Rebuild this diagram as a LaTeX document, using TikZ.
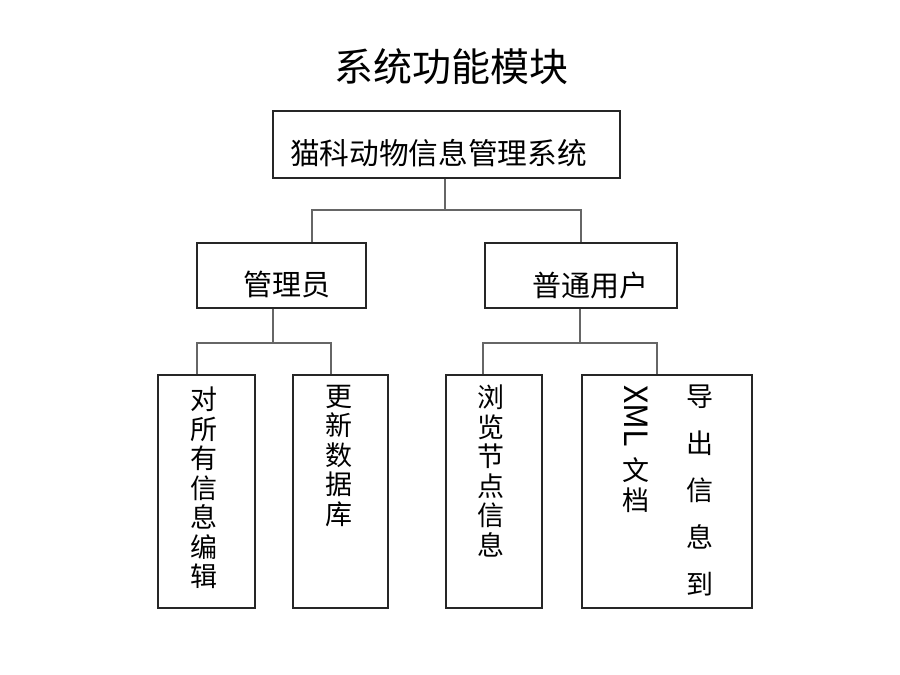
\documentclass[tikz,border=0pt]{standalone}
\usepackage{fontspec}
\newfontfamily\cjk{Noto Sans CJK SC}
\tikzset{
  box/.style={draw=black!85, line width=1.4pt, inner sep=0pt},
  wire/.style={draw=black!60, line width=2pt},
  txt/.style={font=\cjk\fontsize{29}{29}\selectfont, inner sep=0pt},
  vtxt/.style={font=\cjk\fontsize{27}{29.5}\selectfont, inner sep=0pt, align=center, anchor=north}
}
\begin{document}
\begin{tikzpicture}[x=1pt,y=-1pt]
  \useasboundingbox (0,0) rectangle (900,675);
  \node[font=\cjk\fontsize{39}{39}\selectfont, inner sep=0pt] (title) at (451,67) {系统功能模块};

  \node[box, minimum width=347pt, minimum height=67pt] (sys) at (446.5,144.5) {};
  \node[box, minimum width=169pt, minimum height=65pt] (adm) at (281.5,275.5) {};
  \node[box, minimum width=192pt, minimum height=65pt] (usr) at (581,275.5) {};
  \node[box, minimum width=97pt, minimum height=233pt] (edit) at (206.5,491.5) {};
  \node[box, minimum width=95pt, minimum height=233pt] (upd) at (340.5,491.5) {};
  \node[box, minimum width=96pt, minimum height=233pt] (view) at (494,491.5) {};
  \node[box, minimum width=170pt, minimum height=233pt] (xml) at (667,491.5) {};

  \node[txt, font=\cjk\fontsize{29.7}{29.7}\selectfont] (sysT) at (438.5,153) {猫科动物信息管理系统};
  \node[txt] (admT) at (286.5,284) {管理员};
  \node[txt] (usrT) at (590,285) {普通用户};
  \node[vtxt] (editT) at (204,387) {对\\所\\有\\信\\息\\编\\辑};
  \node[vtxt] (updT) at (339,385) {更\\新\\数\\据\\库};
  \node[vtxt] (viewT) at (491,385) {浏\\览\\节\\点\\信\\息};
  \node[vtxt, font=\cjk\fontsize{27}{47}\selectfont] (xmlT) at (700,385) {导\\出\\信\\息\\到};
  \node[vtxt] (xmlL) at (636,385) {\rotatebox{-90}{\fontsize{32}{32}\selectfont XML}\\[10pt]文\\档};

  \coordinate (j1) at (445,210);
  \coordinate (j2) at (273,343);
  \coordinate (j3) at (580,343);
  \draw[wire] (sys.south -| j1) -- (j1);
  \draw[wire] ([xshift=30.5pt]adm.north) |- (j1) -| (usr.north);
  \draw[wire] (adm.south -| j2) -- (j2);
  \draw[wire] ([xshift=-9.5pt]edit.north) |- (j2) -| ([xshift=-9.5pt]upd.north);
  \draw[wire] (usr.south -| j3) -- (j3);
  \draw[wire] ([xshift=-11pt]view.north) |- (j3) -| ([xshift=-10pt]xml.north);
\end{tikzpicture}
\end{document}
